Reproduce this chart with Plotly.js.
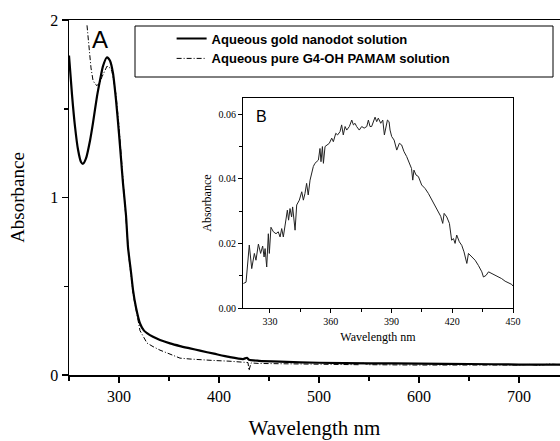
<!DOCTYPE html>
<html><head><meta charset="utf-8">
<script src="https://cdn.plot.ly/plotly-3.0.1.min.js"></script>
<style>html,body{margin:0;padding:0;background:#fff}#plot{width:560px;height:441px}</style>
</head><body><div id="plot"></div>
<script>
// Main spectrum: aqueous gold nanodot solution
const goldWl = [250,253,256,259,262,264,267,271,274,278,281,284,288,291,294,297,300,302,304,307,309,312,314,317,321,325,328,334,341,351,361,371,381,395,410,424,428,430,440,461,500,550,600,650,700,741];
const goldAbs = [1.80,1.58,1.40,1.27,1.20,1.19,1.22,1.32,1.42,1.57,1.66,1.74,1.79,1.77,1.70,1.55,1.36,1.22,1.08,0.90,0.72,0.58,0.48,0.38,0.29,0.25,0.236,0.215,0.197,0.178,0.163,0.150,0.137,0.120,0.102,0.090,0.097,0.086,0.080,0.075,0.069,0.066,0.064,0.062,0.059,0.058];
// Pure G4-OH PAMAM solution
const pamamWl = [268,270,272,274,276,278,281,283,286,288,291,293,297,300,304,307,310,314,318,321,325,328,334,341,350,361,371,381,394,410,424,429,430,432,440,460,500,540,542,550,600,650,700,710,720,730,741];
const pamamAbs = [1.97,1.83,1.73,1.66,1.64,1.63,1.65,1.68,1.72,1.74,1.73,1.71,1.58,1.40,1.10,0.88,0.66,0.46,0.33,0.25,0.21,0.18,0.16,0.14,0.12,0.095,0.090,0.085,0.082,0.078,0.072,0.070,0.025,0.068,0.065,0.063,0.060,0.058,0.07,0.058,0.056,0.055,0.056,0.060,0.054,0.062,0.058];
// Inset B: difference spectrum
const insetWl = [316.9,318.2,319.8,321.0,322.3,323.1,324.3,325.4,326.4,327.1,327.6,328.4,329.2,329.7,330.5,331.7,333.0,334.1,335.0,335.8,336.6,337.4,338.6,339.2,339.9,340.7,341.2,342.4,343.2,344.5,345.7,346.5,347.3,348.1,348.9,349.8,350.6,351.4,352.2,353.1,353.9,354.7,355.2,355.9,356.4,357.2,358.0,359.3,360.5,361.3,362.5,363.4,364.6,365.4,366.2,367.1,367.9,369.2,370.4,371.2,372.0,372.8,374.1,375.3,376.5,377.8,378.6,379.4,380.2,381.1,381.9,382.7,383.5,384.7,385.7,386.5,387.3,388.0,388.8,389.3,390.1,391.3,392.6,393.9,395.0,396.2,397.5,398.8,399.9,400.5,401.1,402.1,403.3,404.9,406.6,408.2,409.9,411.5,413.2,414.3,415.3,416.0,417.3,418.6,419.7,420.6,421.4,422.2,423.5,424.7,425.8,427.2,428.0,429.6,431.3,432.9,434.6,435.4,436.7,437.9,439.5,441.1,442.8,444.4,446.1,447.7,449.4,450.0];
const insetAbs = [0.0076,0.0080,0.0195,0.0122,0.0169,0.0148,0.0198,0.0169,0.0192,0.0158,0.0184,0.0127,0.0230,0.0169,0.0250,0.0236,0.0230,0.0236,0.0220,0.0246,0.0220,0.0251,0.0303,0.0272,0.0308,0.0282,0.0313,0.0241,0.0319,0.0334,0.0360,0.0334,0.0355,0.0386,0.0350,0.0396,0.0417,0.0438,0.0448,0.0453,0.0458,0.0494,0.0453,0.0500,0.0448,0.0500,0.0505,0.0510,0.0526,0.0515,0.0541,0.0536,0.0546,0.0567,0.0536,0.0562,0.0551,0.0562,0.0582,0.0567,0.0572,0.0562,0.0551,0.0562,0.0557,0.0562,0.0582,0.0562,0.0562,0.0577,0.0591,0.0577,0.0588,0.0572,0.0582,0.0536,0.0562,0.0582,0.0577,0.0551,0.0531,0.0520,0.0489,0.0510,0.0505,0.0484,0.0469,0.0448,0.0432,0.0396,0.0427,0.0412,0.0407,0.0381,0.0370,0.0355,0.0334,0.0316,0.0298,0.0284,0.0262,0.0293,0.0282,0.0262,0.0210,0.0215,0.0200,0.0226,0.0205,0.0194,0.0174,0.0138,0.0169,0.0158,0.0148,0.0132,0.0112,0.0096,0.0101,0.0112,0.0107,0.0101,0.0096,0.0091,0.0083,0.0078,0.0073,0.0068];

const serif = 'Times New Roman';
const sans = 'Arial';

const traces = [
  {x: goldWl, y: goldAbs, type:'scatter', mode:'lines', name:'<b>Aqueous gold nanodot solution</b>',
   line:{color:'#000', width:2.2, shape:'spline', smoothing:0.6}, xaxis:'x', yaxis:'y'},
  {x: pamamWl, y: pamamAbs, type:'scatter', mode:'lines', name:'<b>Aqueous pure G4-OH PAMAM solution</b>',
   line:{color:'#000', width:1, dash:'5px,2px,1px,2px'}, xaxis:'x', yaxis:'y'},
  {x: insetWl, y: insetAbs, type:'scatter', mode:'lines', showlegend:false,
   line:{color:'#222', width:1}, xaxis:'x2', yaxis:'y2'}
];

const layout = {
  width:560, height:441,
  margin:{l:69, r:0, t:20, b:66},
  paper_bgcolor:'#fff', plot_bgcolor:'#fff',
  font:{family:serif, color:'#000'},
  showlegend:true,
  legend:{x:0.209, xanchor:'left', y:0.99, yanchor:'top', bgcolor:'rgba(0,0,0,0)',
    font:{family:sans, size:13, color:'#000'}, tracegroupgap:0},
  xaxis:{range:[250,741], domain:[0,1], showline:true, linecolor:'#000', linewidth:1.5, mirror:true,
    ticks:'outside', ticklen:6, tickwidth:1.5, tickcolor:'#000', tickvals:[300,400,500,600,700],
    minor:{tickvals:[250,350,450,550,650], ticks:'outside', ticklen:4, tickwidth:1.5, tickcolor:'#000'},
    showgrid:false, zeroline:false, tickfont:{family:serif, size:16, color:'#000'},
    title:{text:'Wavelength nm', font:{family:serif, size:21, color:'#000'}, standoff:16}},
  yaxis:{range:[0,2], domain:[0,1], showline:true, linecolor:'#000', linewidth:1.5,
    ticks:'outside', ticklen:6, tickwidth:1.5, tickcolor:'#000', tickvals:[0,1,2],
    minor:{tickvals:[0.5,1.5], ticks:'outside', ticklen:4, tickwidth:1.5, tickcolor:'#000'},
    showgrid:false, zeroline:false, tickfont:{family:serif, size:16, color:'#000'},
    title:{text:'Absorbance', font:{family:serif, size:19, color:'#000'}, standoff:20}},
  xaxis2:{anchor:'y2', domain:[0.3544,0.9043], range:[316.7,450], showline:true, linecolor:'#000', linewidth:1, mirror:true,
    ticks:'outside', ticklen:4, tickcolor:'#000', tickvals:[330,360,390,420,450],
    minor:{tickvals:[345,375,405,435], ticks:'outside', ticklen:3, tickcolor:'#000'},
    showgrid:false, zeroline:false, tickfont:{family:serif, size:10, color:'#000'},
    title:{text:'Wavelength nm', font:{family:serif, size:12, color:'#000'}, standoff:6}},
  yaxis2:{anchor:'x2', domain:[0.1887,0.780], range:[0,0.065], showline:true, linecolor:'#000', linewidth:1, mirror:true,
    ticks:'outside', ticklen:4, tickcolor:'#000', tickvals:[0,0.02,0.04,0.06], tickformat:'.2f',
    minor:{tickvals:[0.01,0.03,0.05], ticks:'outside', ticklen:3, tickcolor:'#000'},
    showgrid:false, zeroline:false, tickfont:{family:serif, size:10, color:'#000'},
    title:{text:'Absorbance', font:{family:serif, size:12, color:'#000'}, standoff:4}},
  shapes:[
    {type:'rect', xref:'paper', yref:'paper', x0:(135-69)/491, x1:(553-69)/491, y0:(375-77)/355, y1:(375-26)/355,
     line:{color:'#000', width:1}, fillcolor:'rgba(0,0,0,0)'}
  ],
  annotations:[
    {text:'A', xref:'x', yref:'y', x:281, y:1.89, showarrow:false, font:{family:sans, size:24, color:'#000'}},
    {text:'B', xref:'x2', yref:'y2', x:326, y:0.0592, showarrow:false, font:{family:sans, size:16, color:'#000'}}
  ]
};
Plotly.newPlot('plot', traces, layout, {displayModeBar:false, staticPlot:true});
</script></body></html>
